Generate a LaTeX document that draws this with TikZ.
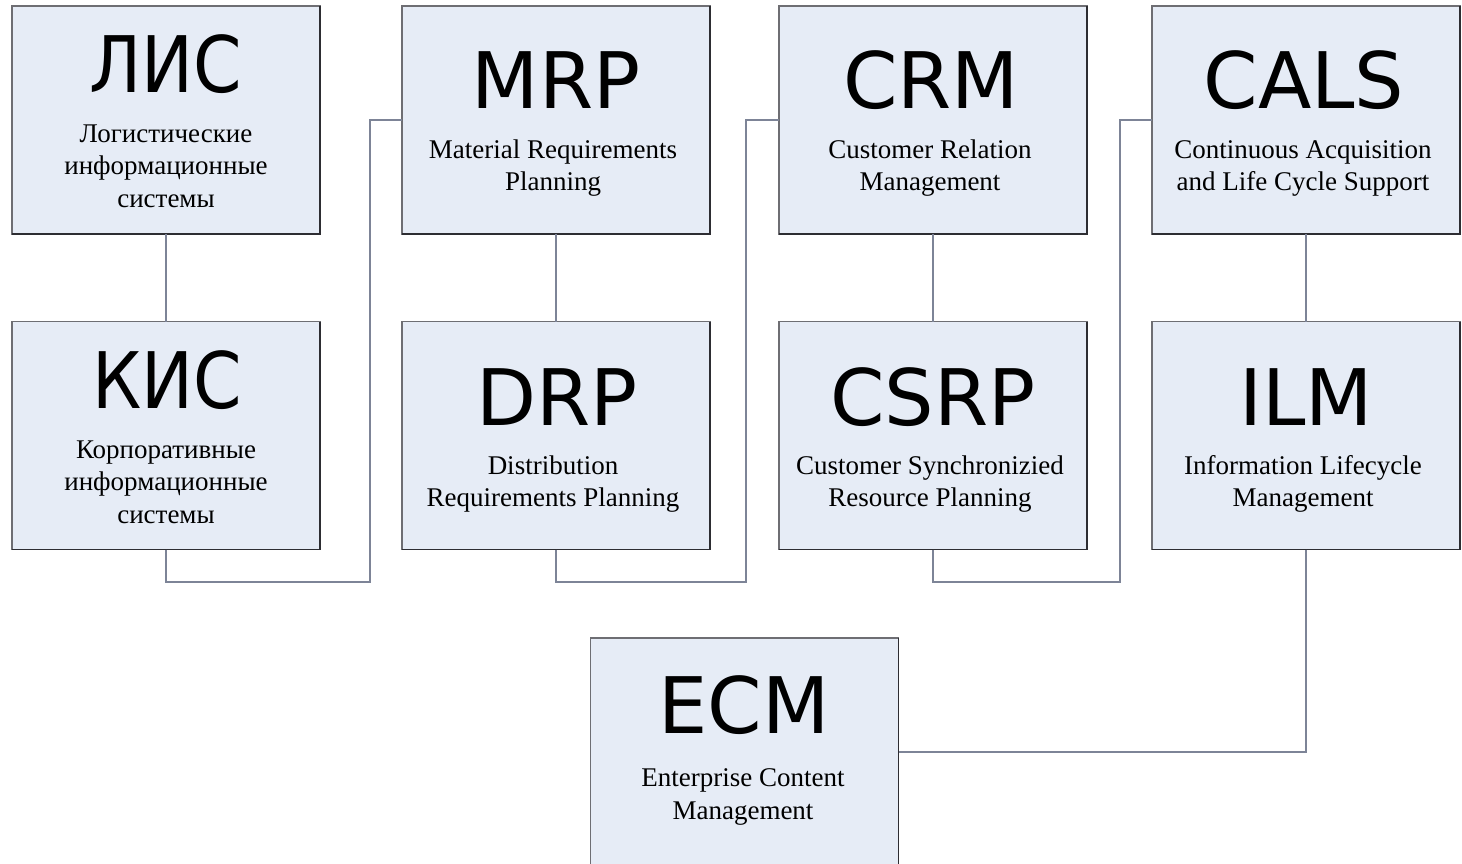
\documentclass[tikz,border=0pt]{standalone}
\usepackage{fontspec}
\setmainfont{Liberation Serif}
\newfontfamily\ttlfont{DejaVu Sans}
\definecolor{boxfill}{RGB}{230,236,246}
\definecolor{boxedge}{RGB}{110,110,115}
\definecolor{boxshade}{RGB}{45,45,50}
\definecolor{wire}{RGB}{125,132,151}
\tikzset{
  sysbox/.style={rectangle, fill=boxfill, draw=boxedge, line width=1.2pt,
    minimum width=308pt, minimum height=228pt, inner sep=0pt, outer sep=0pt},
  ttl/.style={font=\ttlfont\fontsize{78}{80}\selectfont, inner sep=0pt, anchor=base},
  % anchor=base of a multi-line node sits on its last line
  sub/.style={font=\fontsize{27}{32.5}\selectfont, align=center, inner sep=0pt, anchor=base},
  conn/.style={draw=wire, line width=1.4pt},
  shade/.style={draw=boxshade, line width=1.8pt}
}
\newcommand{\boxshade}[1]{\draw[shade] (#1.north east) -- (#1.south east) -- (#1.south west);}
\newcommand{\narrow}[1]{\scalebox{0.89}[1]{#1}}
\begin{document}
\begin{tikzpicture}[x=1pt,y=-1pt]
\useasboundingbox (0,0) rectangle (1462,864);

% corner points of the bus lines
\coordinate (j1) at (370,582);
\coordinate (j2) at (746,582);
\coordinate (j3) at (1120,582);

% boxes
\node[sysbox] (lis)  at (166,120) {};
\node[sysbox] (kis)  at (166,435.5) {};
\node[sysbox] (mrp)  at (556,120) {};
\node[sysbox] (drp)  at (556,435.5) {};
\node[sysbox] (crm)  at (933,120) {};
\node[sysbox] (csrp) at (933,435.5) {};
\node[sysbox] (cals) at (1306,120) {};
\node[sysbox] (ilm)  at (1306,435.5) {};
\node[sysbox] (ecm)  at (744.5,752) {};
\foreach \b in {lis,kis,mrp,drp,crm,csrp,cals,ilm,ecm} {\boxshade{\b}}

% connectors
\draw[conn] (lis.south) -- (kis.north);
\draw[conn] (mrp.south) -- (drp.north);
\draw[conn] (crm.south) -- (csrp.north);
\draw[conn] (cals.south) -- (ilm.north);
\draw[conn] (kis.south) |- (j1) |- (mrp.west);
\draw[conn] (drp.south) |- (j2) |- (crm.west);
\draw[conn] (csrp.south) |- (j3) |- (cals.west);
\draw[conn] (ilm.south) |- (ecm.east);

% titles and descriptions
\node[ttl] (lisT) at (166,93) {\narrow{ЛИС}};
\node[sub] (lisS) at (166,207) {Логистические\\информационные\\системы};
\node[ttl] (kisT) at (167,408) {\narrow{КИС}};
\node[sub] (kisS) at (166,523) {Корпоративные\\информационные\\системы};

\node[ttl] (mrpT) at (556,109) {MRP};
\node[sub] (mrpS) at (553,190.5) {Material Requirements\\Planning};
\node[ttl] (drpT) at (557,425) {DRP};
\node[sub] (drpS) at (553,506.5) {Distribution\\Requirements Planning};

\node[ttl] (crmT) at (931,109) {CRM};
\node[sub] (crmS) at (930,190.5) {Customer Relation\\Management};
\node[ttl] (csrpT) at (933,425) {CSRP};
\node[sub] (csrpS) at (930,506.5) {Customer Synchronizied\\Resource Planning};

\node[ttl] (calsT) at (1304,109) {CALS};
\node[sub] (calsS) at (1303,190.5) {Continuous Acquisition\\and Life Cycle Support};
\node[ttl] (ilmT) at (1306,425) {ILM};
\node[sub] (ilmS) at (1303,506.5) {Information Lifecycle\\Management};

\node[ttl] (ecmT) at (744,733) {ECM};
\node[sub] (ecmS) at (743,819) {Enterprise Content\\Management};
\end{tikzpicture}
\end{document}
